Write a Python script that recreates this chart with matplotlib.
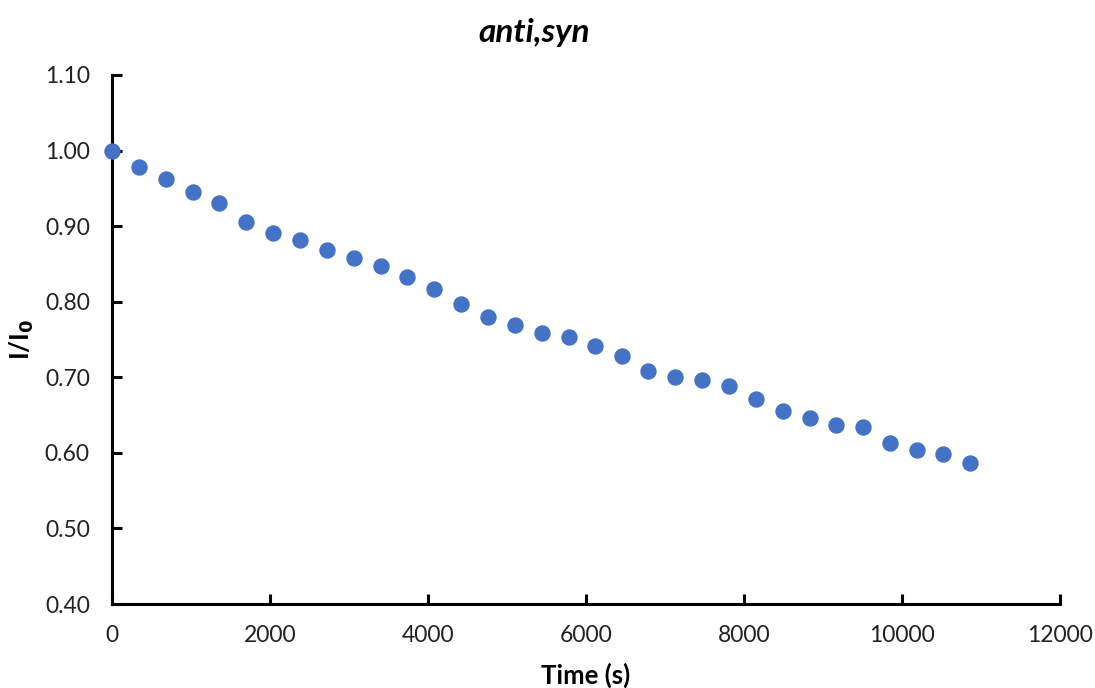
import matplotlib.pyplot as plt
import numpy as np

time_s = [0, 340, 680, 1020, 1360, 1700, 2040, 2380, 2720, 3060, 3400,
          3740, 4080, 4420, 4760, 5100, 5440, 5780, 6110, 6450, 6790,
          7130, 7470, 7810, 8150, 8490, 8830, 9170, 9510, 9850, 10190,
          10520, 10860]
ratio = [1.000, 0.978, 0.963, 0.945, 0.931, 0.906, 0.891, 0.882, 0.869,
         0.858, 0.847, 0.833, 0.817, 0.797, 0.780, 0.769, 0.759, 0.753,
         0.742, 0.728, 0.709, 0.701, 0.697, 0.688, 0.671, 0.655, 0.646,
         0.637, 0.634, 0.613, 0.604, 0.599, 0.587]

x_ticks = [0, 2000, 4000, 6000, 8000, 10000, 12000]
y_ticks = [0.40, 0.50, 0.60, 0.70, 0.80, 0.90, 1.00, 1.10]

plt.rcParams['font.family'] = ['Lato', 'DejaVu Sans']

fig = plt.figure(figsize=(10.95, 6.88), dpi=100)
ax = fig.add_axes([0.1023, 0.122, 0.8657, 0.769])

ax.plot(time_s, ratio, linestyle='none', marker='o', markersize=10.8,
        color='#4472c4', clip_on=False, zorder=3)

ax.set_xlim(0, 12000)
ax.set_ylim(0.40, 1.10)
ax.set_xticks(x_ticks)
ax.set_yticks(y_ticks)
ax.set_yticklabels([f"{v:.2f}" for v in y_ticks])

for side in ['top', 'right']:
    ax.spines[side].set_visible(False)
for side in ['left', 'bottom']:
    ax.spines[side].set_linewidth(2.2)
    ax.spines[side].set_color('black')

ax.tick_params(direction='in', length=7, width=2.2, labelsize=16.5,
               colors='black', labelcolor='#222222')
ax.tick_params(axis='x', pad=15)
ax.tick_params(axis='y', pad=16)

ax.set_xlabel("Time (s)", fontsize=18.5, fontweight='bold', labelpad=12)
ax.set_ylabel(r"I/I$_\mathbf{0}$", fontsize=18.5, fontweight='bold', labelpad=6)
fig.text(0.488, 0.953, "anti,syn", fontsize=24, fontweight='bold', style='italic',
         ha='center', va='center')

fig.savefig("out.png", dpi=100)
